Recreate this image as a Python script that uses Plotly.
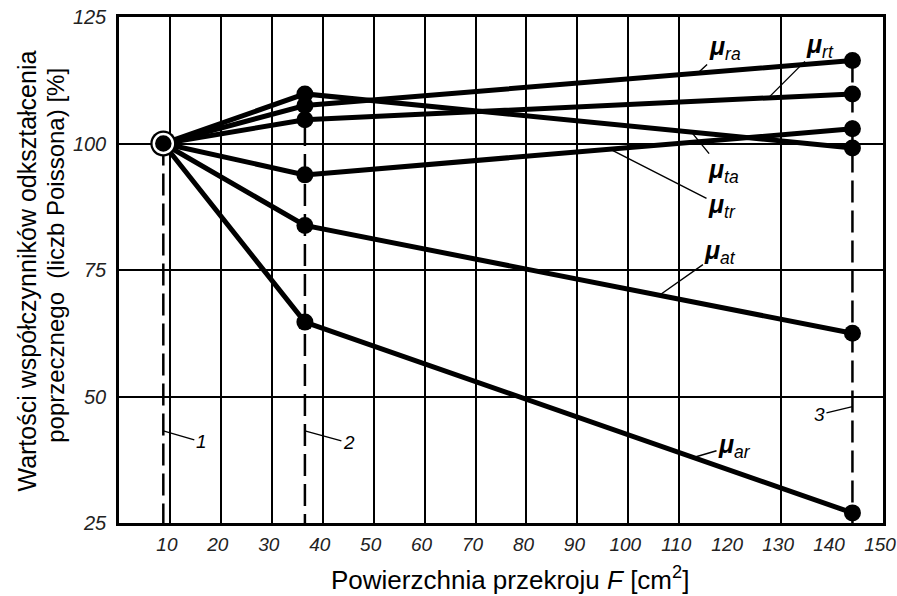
import numpy as np
import plotly.graph_objects as go

# ---- data ----
F = [8.7, 36.5, 144.0]                      # cross-section area F [cm2]
mu_ra = [100, 107.5, 116.4]
mu_rt = [100, 104.7, 109.8]
mu_ta = [100, 109.8, 99.1]
mu_tr = [100, 93.8, 102.9]
mu_at = [100, 83.8, 62.5]
mu_ar = [100, 64.7, 27.0]
series_names = ["ra", "rt", "ta", "tr", "at", "ar"]
series_vals = [mu_ra, mu_rt, mu_ta, mu_tr, mu_at, mu_ar]

x_ticks = list(range(10, 151, 10))
x_grid = [10, 20, 30, 40, 50, 60, 70, 80, 90, 100, 110, 130]
y_ticks = [25, 50, 75, 100, 125]
specimen_labels = ["1", "2", "3"]

# ---- label placement (layout only) ----
# anchor x on each series line, text offset in pixels
label_pos = {
    "ra": (113.6, 27, -25),
    "rt": (127.5, 52, -52),
    "ta": (112.4, 32, 39),
    "tr": (96.4, 112, 57),
    "at": (106.1, 61, -43),
    "ar": (112.8, 41, -12),
}
spec_pos = [(43.2, 38, 11), (43.2, 44, 12), (48.0, -33, 8)]

FONT = "Liberation Sans, Arial, sans-serif"
fig = go.Figure()

# dashed vertical specimen lines
for i, xv in enumerate(F):
    top = max(v[i] for v in series_vals)
    fig.add_trace(go.Scatter(x=[xv, xv], y=[top, y_ticks[0]], mode="lines",
                             line=dict(color="black", width=2.5, dash="22px,8px"),
                             hoverinfo="skip", showlegend=False))

# series lines
for vals in series_vals:
    fig.add_trace(go.Scatter(x=F, y=vals, mode="lines",
                             line=dict(color="black", width=5),
                             showlegend=False))

# markers for points 2 and 3
for vals in series_vals:
    fig.add_trace(go.Scatter(x=F[1:], y=vals[1:], mode="markers",
                             marker=dict(color="black", size=17),
                             showlegend=False))

# common starting point: ringed marker
fig.add_trace(go.Scatter(x=[F[0]], y=[mu_ra[0]], mode="markers",
                         marker=dict(color="black", size=26), showlegend=False))
fig.add_trace(go.Scatter(x=[F[0]], y=[mu_ra[0]], mode="markers",
                         marker=dict(color="black", size=19,
                                     line=dict(color="white", width=2.5)),
                         showlegend=False))

# dummy trace for grid axis
fig.add_trace(go.Scatter(x=[None], y=[None], xaxis="x2", showlegend=False,
                         hoverinfo="skip"))

# series labels
for name, vals in zip(series_names, series_vals):
    ax_x, ox, oy = label_pos[name]
    yv = float(np.interp(ax_x, F, vals))
    fig.add_annotation(x=ax_x, y=yv, ax=ox, ay=oy, showarrow=True,
                       arrowhead=0, arrowwidth=1.4, arrowcolor="black",
                       text="<b><i>\u03bc</i></b><i><sub>%s</sub></i>" % name,
                       font=dict(family=FONT, size=25, color="black"))

# specimen number labels
for xv, lab, (yv, ox, oy) in zip(F, specimen_labels, spec_pos):
    fig.add_annotation(x=xv, y=yv, ax=ox, ay=oy, showarrow=True,
                       arrowhead=0, arrowwidth=1.4, arrowcolor="black",
                       text="<i>%s</i>" % lab,
                       font=dict(family=FONT, size=19, color="black"))

# axis titles (y title as two separately centred lines, like the reference)
fig.add_annotation(xref="paper", yref="paper", x=-0.1217, y=0.497,
                   xanchor="center", yanchor="middle", textangle=-90,
                   showarrow=False,
                   text="Wartości współczynników odkształcenia",
                   font=dict(family=FONT, size=25, color="black"))
fig.add_annotation(xref="paper", yref="paper", x=-0.0825, y=0.530,
                   xanchor="center", yanchor="middle", textangle=-90,
                   showarrow=False,
                   text="poprzecznego  (liczb Poissona) [%]",
                   font=dict(family=FONT, size=24, color="black"))
fig.add_annotation(xref="paper", yref="paper", x=0.512, y=-0.110,
                   xanchor="center", yanchor="middle", showarrow=False,
                   text="Powierzchnia przekroju <i>F</i> [cm<sup>2</sup>]",
                   font=dict(family=FONT, size=26, color="black"))

fig.update_layout(
    width=897, height=596,
    margin=dict(l=119, r=14, t=17, b=73, autoexpand=False),
    paper_bgcolor="white", plot_bgcolor="white",
    showlegend=False,
    xaxis=dict(range=[0, 150], tickvals=x_ticks, ticktext=[str(t) for t in x_ticks],
               showgrid=False, zeroline=False, ticks="", automargin=False,
               ticklabeloverflow="allow", ticklabelshift=-3,
               showline=True, mirror=True, linecolor="black", linewidth=2.5,
               tickfont=dict(family=FONT, size=19, color="#222", style="italic"),
               ticklabelstandoff=2),
    xaxis2=dict(range=[0, 150], overlaying="x", tickvals=x_grid,
                showticklabels=False, showgrid=True, gridcolor="black",
                gridwidth=2, zeroline=False, ticks="", showline=False,
                automargin=False),
    yaxis=dict(range=[25, 125], tickvals=y_ticks, showgrid=True,
               gridcolor="black", gridwidth=2, zeroline=False, ticks="",
               automargin=False, ticklabeloverflow="allow",
               showline=True, mirror=True, linecolor="black", linewidth=2.5,
               tickfont=dict(family=FONT, size=20, color="#222", style="italic"),
               ticklabelstandoff=6),
)

# remove the default 8px body margin so the figure fills the window exactly
fig.write_html("out.html",
               config={"displayModeBar": False},
               post_script="document.body.style.margin='0';"
                           "document.body.style.overflow='hidden';")
